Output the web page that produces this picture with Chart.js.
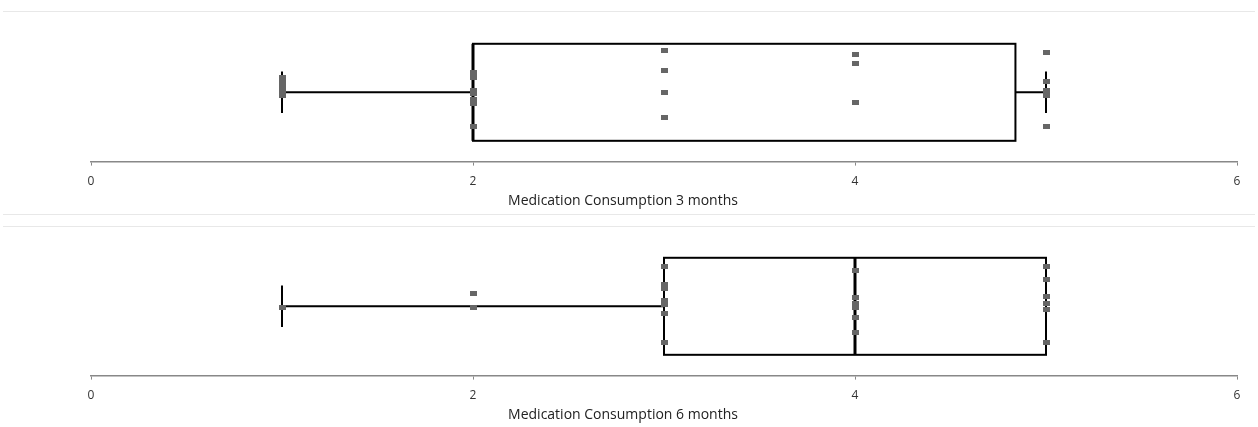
<!DOCTYPE html>
<html>
<head>
<meta charset="utf-8">
<script src="https://cdn.jsdelivr.net/npm/chart.js@4.4.1/dist/chart.umd.min.js"></script>
<style>
  html, body { margin: 0; padding: 0; background: #fff; }
  #wrap { position: relative; width: 1258px; height: 427px; overflow: hidden; }
  .panel { position: absolute; left: 0; width: 1258px; height: 213px; }
  #p1 { top: 0; }
  #p2 { top: 214px; }
  .sep { position: absolute; left: 3px; right: 3px; height: 1px; background: #e8e8e8; }
</style>
</head>
<body>
<div id="wrap">
  <div class="sep" style="top:11px"></div>
  <div class="sep" style="top:214px"></div>
  <div class="sep" style="top:226px"></div>
  <div class="panel" id="p1"><canvas id="c1" width="1258" height="213"></canvas></div>
  <div class="panel" id="p2"><canvas id="c2" width="1258" height="213"></canvas></div>
</div>
<script>
// axis ticks
var xTicks = [0, 2, 4, 6];

// 3 months: values and jitter height of each point
var x3 = [1, 1, 1, 1, 1, 2, 2, 2, 2, 2, 2, 2, 3, 3, 3, 3, 4, 4, 4, 5, 5, 5, 5, 5];
var y3 = [6.1, 5.8, 5.4, 5.1, 4.8, 6.4, 6.1, 5.1, 4.9, 4.5, 4.2, 2.5, 8.0, 6.6, 5.0, 3.2, 7.7, 7.1, 4.3, 7.9, 5.8, 5.1, 4.8, 2.5];
// min, q1, median, q3, max
var box3 = [1, 2, 2, 4.84, 5];

// 6 months
var x6 = [1, 2, 2, 3, 3, 3, 3, 3, 3, 3, 4, 4, 4, 4, 4, 4, 5, 5, 5, 5, 5, 5];
var y6 = [4.9, 5.9, 4.9, 7.9, 6.6, 6.3, 5.4, 5.1, 4.5, 2.4, 7.6, 5.6, 5.2, 4.9, 4.2, 3.1, 7.9, 6.9, 5.7, 5.2, 4.8, 2.4];
var box6 = [1, 3, 4, 5, 5];

// small grey marker like the excel one
var marker = document.createElement("canvas");
marker.width = 7; marker.height = 5;
var mctx = marker.getContext("2d");
mctx.fillStyle = "#666666";
mctx.fillRect(0, 0, 7, 5);

// box and whiskers drawn under the points
var boxPlugin = {
    id: "boxPlot",
    beforeDatasetsDraw: function(chart) {
        var b = chart.options.plugins.boxPlot.stats;
        var xs = chart.scales.x, ys = chart.scales.y;
        var ctx = chart.ctx;
        var xMin = xs.getPixelForValue(b[0]), xQ1 = xs.getPixelForValue(b[1]);
        var xMed = xs.getPixelForValue(b[2]), xQ3 = xs.getPixelForValue(b[3]);
        var xMax = xs.getPixelForValue(b[4]);
        var yTop = ys.getPixelForValue(8.5), yBot = ys.getPixelForValue(1.5);
        var yMid = ys.getPixelForValue(5);
        var cTop = ys.getPixelForValue(6.5), cBot = ys.getPixelForValue(3.5);
        ctx.save();
        ctx.strokeStyle = "#000";
        ctx.lineWidth = 2;
        // whiskers
        ctx.beginPath();
        ctx.moveTo(xMin, yMid); ctx.lineTo(xQ1, yMid);
        ctx.moveTo(xQ3, yMid); ctx.lineTo(xMax, yMid);
        ctx.moveTo(xMin, cTop); ctx.lineTo(xMin, cBot);
        if (xMax > xQ3 + 1) { ctx.moveTo(xMax, cTop); ctx.lineTo(xMax, cBot); }
        ctx.stroke();
        // box
        ctx.strokeRect(xQ1, yTop, xQ3 - xQ1, yBot - yTop);
        // median
        ctx.lineWidth = 3;
        ctx.beginPath();
        ctx.moveTo(xMed, yTop); ctx.lineTo(xMed, yBot);
        ctx.stroke();
        ctx.restore();
    },
    // axis title sits a bit left of the axis centre, like the excel export
    afterDraw: function(chart) {
        var t = chart.options.plugins.boxPlot.title;
        var ctx = chart.ctx;
        ctx.save();
        ctx.fillStyle = "#222";
        ctx.font = "14px 'Open Sans'";
        ctx.textAlign = "center";
        ctx.textBaseline = "middle";
        ctx.fillText(t, chart.width / 2 - 6, chart.chartArea.bottom + 39);
        ctx.restore();
    }
};

function makeChart(id, xs, ys, stats, title) {
    var pts = [];
    for (var i = 0; i < xs.length; i++) pts.push({x: xs[i], y: ys[i]});
    return new Chart(document.getElementById(id), {
        type: "scatter",
        data: {
            datasets: [{
                data: pts,
                pointStyle: marker,
                pointRadius: 4,
                pointHoverRadius: 4
            }]
        },
        options: {
            responsive: false,
            animation: false,
            events: [],
            layout: { padding: { left: 91, right: 21, top: 23, bottom: 15 } },
            plugins: {
                legend: { display: false },
                tooltip: { enabled: false },
                title: { display: false },
                boxPlot: { stats: stats, title: title }
            },
            scales: {
                x: {
                    type: "linear",
                    min: 0,
                    max: 6,
                    afterBuildTicks: function(scale) {
                        scale.ticks = xTicks.map(function(v) { return {value: v}; });
                    },
                    border: { display: true, color: "#888", width: 1.5 },
                    grid: { display: true, drawOnChartArea: false, drawTicks: true, tickLength: 4, color: "#888", tickColor: "#888" },
                    ticks: { color: "#333", font: { family: "Open Sans", size: 12 }, padding: 9, maxRotation: 0 }
                },
                y: {
                    display: false,
                    min: 0,
                    max: 10
                }
            }
        },
        plugins: [boxPlugin]
    });
}

makeChart("c1", x3, y3, box3, "Medication Consumption 3 months");
makeChart("c2", x6, y6, box6, "Medication Consumption 6 months");
</script>
</body>
</html>
